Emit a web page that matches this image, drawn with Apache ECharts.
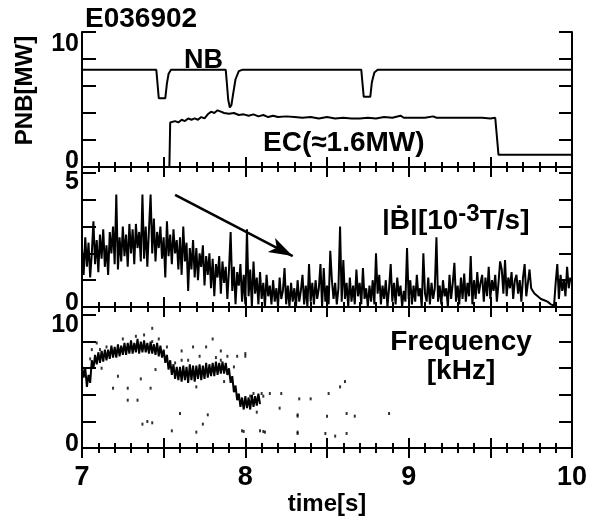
<!DOCTYPE html>
<html>
<head>
<meta charset="utf-8">
<script src="https://cdn.jsdelivr.net/npm/echarts@6/dist/echarts.min.js"></script>
<style>
html,body{margin:0;padding:0;background:#fff;}
#chart{width:596px;height:517px;}
</style>
</head>
<body>
<div id="chart"></div>
<script>
// ---------- DATA ----------
const shotLabel = 'E036902';
const xTickLabels = ['7', '8', '9', '10'];

// Panel 1: NB power [MW]
const nbT = [7.0, 7.455, 7.46, 7.47, 7.51, 7.52, 7.53, 7.545,
             7.88, 7.885, 7.895, 7.905, 7.915, 7.925, 7.94, 7.96, 7.98,
             8.71, 8.715, 8.725, 8.765, 8.775, 8.79, 8.81, 10.0];
const nbP = [7.2, 7.2, 6.5, 5.1, 5.1, 6.2, 6.9, 7.2,
             7.2, 6.5, 5.0, 4.4, 4.6, 5.4, 6.5, 7.1, 7.2,
             7.2, 6.5, 5.2, 5.2, 6.3, 7.0, 7.2, 7.2];

// Panel 1: EC power [MW]
const ecT = [7.535, 7.54, 7.55, 7.57, 7.59, 7.61, 7.63, 7.65, 7.67, 7.69, 7.71, 7.73, 7.75, 7.77, 7.79,
             7.81, 7.83, 7.85, 7.87, 7.90, 7.93, 7.96, 7.99, 8.02, 8.05, 8.08, 8.11, 8.14, 8.17, 8.20,
             8.25, 8.30, 8.35, 8.40, 8.45, 8.50, 8.55, 8.60, 8.65, 8.70, 8.75, 8.80, 8.85, 8.90, 8.95,
             8.97, 9.05, 9.10, 9.15, 9.17, 9.25, 9.35, 9.45, 9.50, 9.53, 9.55, 10.0];
const ecP = [0, 3.3, 3.2, 3.4, 3.3, 3.5, 3.4, 3.6, 3.5, 3.6, 3.5, 3.7, 3.6, 3.9, 4.1,
             4.0, 4.2, 4.1, 4.0, 3.95, 4.0, 3.85, 3.9, 3.8, 3.9, 3.75, 3.85, 3.7, 3.8, 3.7,
             3.75, 3.7, 3.65, 3.7, 3.6, 3.7, 3.6, 3.65, 3.6, 3.6, 3.65, 3.6, 3.7, 3.65, 3.8,
             3.65, 3.65, 3.65, 3.75, 3.65, 3.65, 3.65, 3.65, 3.6, 3.65, 0.9, 0.9];

// Panel 2: |dB/dt| [1e-3 T/s], sampled every 0.01 s from 7.00 s
const bdotStart = 7.0;
const bdotStep = 0.01;
const bdotV = [
 2.2,1.2,2.6,1.5,2.4,1.1,2.0,3.2,1.6,2.5,
 1.3,2.7,1.8,2.9,1.5,2.3,1.2,2.8,2.0,3.0,
 1.6,4.2,1.4,2.6,1.7,3.0,1.9,2.7,1.5,3.1,
 2.0,2.9,1.6,3.1,2.2,2.8,1.7,4.2,1.8,3.0,
 1.5,2.9,4.2,2.0,3.3,1.7,2.8,2.2,3.0,1.8,
 2.6,1.1,3.2,1.9,2.7,1.6,2.9,2.0,2.5,1.4,
 2.6,1.2,3.0,1.7,2.4,0.6,2.2,1.4,2.5,1.1,
 2.2,1.0,2.0,1.5,2.3,0.8,1.9,1.2,2.0,0.7,
 1.8,0.4,1.6,1.1,1.9,0.5,1.7,0.9,1.5,0.3,
 1.4,2.8,0.6,1.5,0.1,1.3,0.8,1.6,0.2,1.2,
 0.1,2.9,0.4,1.4,0.0,1.7,0.5,1.1,0.1,1.3,
 0.3,0.9,0.0,1.2,0.4,0.8,0.1,1.0,0.2,0.7,
 0.0,1.1,0.3,0.6,1.45,0.1,0.8,0.0,0.9,0.2,
 0.7,0.0,1.0,0.2,0.6,1.2,0.1,0.8,0.0,1.6,
 0.2,0.9,0.1,1.0,0.3,0.7,1.6,0.0,1.45,0.2,
 0.8,0.1,2.1,1.0,0.3,0.9,0.1,0.7,3.0,0.2,
 1.75,0.3,0.9,0.0,1.1,0.2,0.8,0.1,1.4,0.4,
 0.9,0.1,1.45,0.3,0.7,0.0,0.8,0.2,1.0,0.1,
 2.0,0.5,1.2,0.1,0.8,0.3,1.0,0.0,0.7,1.6,
 0.2,0.9,0.1,1.1,0.4,0.8,0.0,0.6,0.2,2.2,
 0.3,1.0,0.1,0.8,0.2,1.2,0.4,0.7,0.0,2.0,
 0.5,0.2,1.1,0.1,0.9,0.3,0.7,2.6,0.2,0.8,
 0.1,1.0,0.4,0.7,0.0,1.2,0.3,0.9,1.65,0.2,
 0.8,0.1,1.1,0.3,1.25,0.2,0.9,0.4,1.9,0.1,
 1.0,0.3,1.3,0.5,0.9,1.2,0.2,1.1,0.4,1.5,
 0.3,1.0,0.6,1.2,0.2,0.9,1.7,1.4,0.5,1.75,
 0.4,1.1,0.7,1.3,0.3,1.0,1.2,0.5,1.0,0.2,
 1.1,1.6,0.4,0.9,1.4,0.7,0.6,0.5,0.45,0.4,
 0.35,0.3,0.3,0.25,0.2,0.2,0.15,0.1,0.1,0.05,
 0.9,1.6,0.3,1.2,0.6,1.0,0.4,1.5,0.7,1.1
];
// arrow in panel 2 (data coords: [time, value])
const arrowFrom = [7.57, 4.18];
const arrowTo = [8.29, 1.9];

// Panel 3: mode frequency [kHz], main band sampled every 0.01 s from 7.00 s
const freqStart = 7.0;
const freqStep = 0.01;
const freqV = [
 6.2,5.3,6.0,4.6,5.5,4.9,6.6,6.0,7.0,6.3,
 7.2,6.4,7.3,6.5,7.4,6.6,7.4,6.7,7.7,6.8,
 7.6,6.8,7.8,6.9,7.7,7.0,7.9,7.0,7.9,7.1,
 8.1,7.1,7.9,7.2,8.2,7.1,8.0,7.2,8.1,7.2,
 7.9,7.1,8.0,7.1,7.8,7.0,7.9,6.9,7.7,6.8,
 7.4,6.4,7.0,5.9,6.6,5.5,6.3,5.2,6.1,5.1,
 6.1,5.0,6.2,5.1,6.1,4.9,6.3,5.1,6.2,5.0,
 6.2,5.2,6.3,5.1,6.2,5.2,6.4,5.3,6.3,5.4,
 6.4,5.4,6.5,5.5,6.4,5.6,6.5,5.6,6.4,5.5,
 6.0,4.9,5.4,4.2,4.7,3.6,4.1,3.1,3.8,2.9,
 3.9,3.0,3.8,2.9,4.0,3.1,3.9,3.2,4.1,3.3
];
// scattered frequency points [time, kHz]
const freqDots = [
 [7.43,9.0],[7.43,8.0],[7.80,8.2],[7.68,7.6],[7.61,7.3],[7.61,6.6],[7.72,6.9],[7.76,7.6],
 [7.85,7.3],[7.85,6.6],[7.89,6.9],[7.95,6.9],[8.0,6.9],[7.45,5.9],[7.22,5.4],[7.12,6.0],
 [7.36,5.2],[7.19,4.5],[7.28,4.5],[7.42,4.5],[7.28,3.6],[7.34,3.6],[7.0,3.6],[7.40,2.0],
 [7.37,1.8],[7.43,1.9],[7.60,2.6],[7.77,2.5],[7.74,1.8],[7.70,1.2],[7.55,1.3],[7.98,1.3],
 [8.11,3.9],[8.22,4.1],[8.21,3.0],[8.32,2.5],[8.32,1.2],[8.09,1.3],[8.12,1.2],[7.09,7.9],
 [7.11,7.4],[7.06,7.4],[8.0,7.1],[8.05,4.1],[8.10,4.1],[8.15,4.1],[8.33,3.7],[8.40,3.7],
 [8.51,4.1],[8.58,4.6],[8.61,5.0],[8.32,2.4],[8.50,2.4],[8.62,2.6],[8.67,2.4],[8.88,2.6],
 [7.99,1.25],[8.11,1.25],[8.32,1.1],[8.49,1.1],[8.55,0.9],[8.62,1.1],
 [7.05,6.7],[7.15,7.6],[7.25,8.2],[7.33,8.4],[7.38,8.5],[7.47,8.2],[7.52,7.6],[7.57,6.4],
 [7.65,6.6],[7.70,4.6],[7.82,6.8],[7.87,5.0],[7.93,6.1],[8.03,3.9],[8.07,2.7]
];

// ---------- BUILD ----------
const FONT = '"Liberation Sans", Arial, Helvetica, "DejaVu Sans", sans-serif';
const zip = (t, v) => t.map((x, i) => [x, v[i]]);
const nbData = zip(nbT, nbP);
const ecData = zip(ecT, ecP);
const bdotData = bdotV.map((v, i) => [+(bdotStart + i * bdotStep).toFixed(3), v]);
const freqData = freqV.map((v, i) => [+(freqStart + i * freqStep).toFixed(3), v]);

const grids = [
  {left: 82, top: 32, width: 490, height: 135},
  {left: 82, top: 173, width: 490, height: 134},
  {left: 82, top: 315, width: 490, height: 136}
];
const yCfg = [
  {max: 10, interval: 2, topPad: 24, botPad: 12},
  {max: 5, interval: 1, topPad: 18, botPad: 8},
  {max: 10, interval: 2, topPad: 20, botPad: 8}
];
const line = {show: true, lineStyle: {color: '#000', width: 2}};

const xAxes = [], yAxes = [];
grids.forEach((g, i) => {
  const showLbl = (i === 2);
  xAxes.push({
    type: 'value', gridIndex: i, position: 'bottom', min: 7, max: 10, interval: 0.5,
    axisLine: line, splitLine: {show: false},
    axisTick: {show: true, inside: true, length: 10, lineStyle: {color: '#000', width: 2}},
    minorTick: {show: true, splitNumber: 5, length: 5, lineStyle: {color: '#000', width: 2}},
    axisLabel: {
      show: showLbl, margin: 16, interval: 0, color: '#000',
      fontFamily: FONT, fontWeight: 'bold', fontSize: 27,
      formatter: v => (Math.abs(v - Math.round(v)) < 1e-6 && xTickLabels.includes(String(Math.round(v)))) ? String(Math.round(v)) : ''
    },
    name: showLbl ? 'time[s]' : '', nameLocation: 'middle', nameGap: 38,
    nameTextStyle: {color: '#000', fontFamily: FONT, fontWeight: 'bold', fontSize: 24}
  });
  xAxes.push({
    type: 'value', gridIndex: i, position: 'top', min: 7, max: 10, interval: 0.5,
    axisLine: line, splitLine: {show: false},
    axisTick: {show: true, inside: true, length: 10, lineStyle: {color: '#000', width: 2}},
    minorTick: {show: true, splitNumber: 5, length: 5, lineStyle: {color: '#000', width: 2}},
    axisLabel: {show: false}
  });
  const c = yCfg[i];
  yAxes.push({
    type: 'value', gridIndex: i, position: 'left', min: 0, max: c.max, interval: c.interval,
    axisLine: line, splitLine: {show: false},
    axisTick: {show: true, inside: true, length: 14, lineStyle: {color: '#000', width: 2}},
    axisLabel: {
      show: true, interval: 0, margin: 3, showMinLabel: true, showMaxLabel: true,
      formatter: v => v === c.max ? '{t|' + v + '}' : (v === 0 ? '{b|0}' : ''),
      rich: {
        t: {fontFamily: FONT, fontWeight: 'bold', fontSize: 25, color: '#000', padding: [c.topPad, 0, 0, 0]},
        b: {fontFamily: FONT, fontWeight: 'bold', fontSize: 25, color: '#000', padding: [0, 0, c.botPad, 0]}
      }
    },
    name: i === 0 ? 'PNB[MW]' : '', nameLocation: 'middle', nameRotate: 90, nameGap: 45,
    nameTextStyle: {color: '#000', fontFamily: FONT, fontWeight: 'bold', fontSize: 24, padding: [0, 0, 0, 18]}
  });
  yAxes.push({
    type: 'value', gridIndex: i, position: 'right', min: 0, max: c.max, interval: c.interval,
    axisLine: line, splitLine: {show: false},
    axisTick: {show: true, inside: true, length: 13, lineStyle: {color: '#000', width: 2}},
    axisLabel: {show: false}
  });
});

const txt = (x, y, text, extra) => ({
  type: 'text', x: x, y: y, silent: true,
  style: Object.assign({text: text, fill: '#000', font: 'bold 27px ' + FONT, align: 'left', verticalAlign: 'middle'}, extra || {})
});

const option = {
  animation: false,
  backgroundColor: '#fff',
  title: {
    text: shotLabel, left: 80, top: 0,
    textStyle: {color: '#000', fontFamily: FONT, fontWeight: 'bold', fontSize: 28}
  },
  grid: grids,
  xAxis: xAxes,
  yAxis: yAxes,
  series: [
    {type: 'line', name: 'NB', xAxisIndex: 0, yAxisIndex: 0, data: nbData, symbol: 'none', smooth: false,
     lineStyle: {color: '#000', width: 2}},
    {type: 'line', name: 'EC', xAxisIndex: 0, yAxisIndex: 0, data: ecData, symbol: 'none',
     lineStyle: {color: '#000', width: 2}},
    {type: 'line', name: 'Bdot', xAxisIndex: 2, yAxisIndex: 2, data: bdotData, symbol: 'none',
     lineStyle: {color: '#000', width: 2}},
    {type: 'line', name: 'Arrow', xAxisIndex: 2, yAxisIndex: 2, data: [], symbol: 'none',
     markLine: {
       silent: true, symbol: ['none', 'arrow'], symbolSize: [12, 24],
       lineStyle: {color: '#000', width: 2.5, type: 'solid'}, label: {show: false},
       data: [[{coord: arrowFrom}, {coord: arrowTo}]]
     }},
    {type: 'line', name: 'Freq', xAxisIndex: 4, yAxisIndex: 4, data: freqData, symbol: 'none',
     lineStyle: {color: '#000', width: 2}},
    {type: 'scatter', name: 'FreqDots', xAxisIndex: 4, yAxisIndex: 4, data: freqDots,
     symbol: 'rect', symbolSize: [2, 3], itemStyle: {color: '#000'}}
  ],
  graphic: [
    txt(184, 61, 'NB'),
    txt(263, 143, 'EC(≈1.6MW)', {font: 'bold 28px ' + FONT}),
    {type: 'text', x: 382, y: 221, silent: true,
     style: {text: '|Ḃ|[10{s|-3}T/s]', fill: '#000', font: 'bold 28px ' + FONT, align: 'left', verticalAlign: 'middle',
             rich: {s: {fontFamily: FONT, fontWeight: 'bold', fontSize: 24, fill: '#000', verticalAlign: 'top', padding: [0, 0, 14, 0]}}}},
    txt(461, 342, 'Frequency', {align: 'center', font: 'bold 28px ' + FONT}),
    txt(461, 371, '[kHz]', {align: 'center', font: 'bold 28px ' + FONT})
  ]
};

const chart = echarts.init(document.getElementById('chart'), null, {renderer: 'canvas'});
chart.setOption(option);
</script>
</body>
</html>
